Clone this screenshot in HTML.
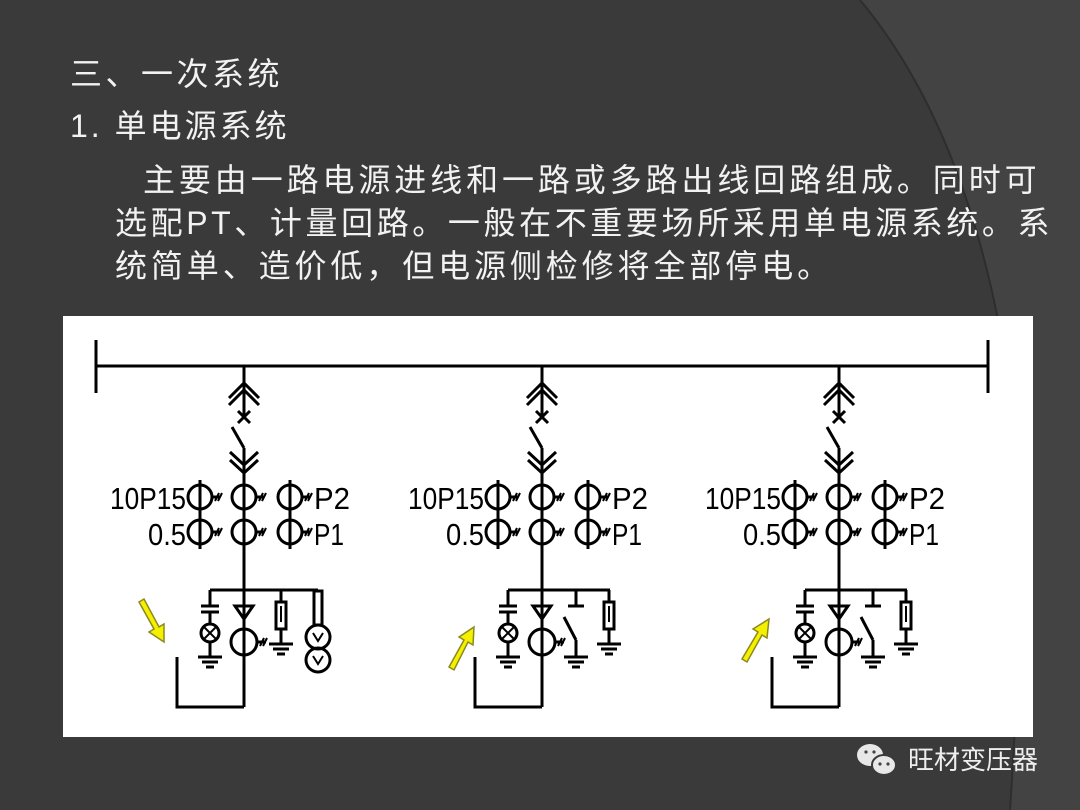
<!DOCTYPE html>
<html><head><meta charset="utf-8"><style>
html,body{margin:0;padding:0;width:1080px;height:810px;overflow:hidden;background:#3a3a3a}
.t{position:absolute;color:#f2f2f2;font-family:"Liberation Sans","Noto Sans CJK SC",sans-serif;font-size:32px;white-space:nowrap;line-height:1}
</style></head><body>
<svg width="1080" height="810" style="position:absolute;left:0;top:0">
<rect width="1080" height="810" fill="#3a3a3a"/>
<path d="M860 0 Q960 120 1000 330 Q1030 520 1010 810 L1080 810 L1080 0 Z" fill="#434343"/>
<path d="M860 0 Q960 120 1000 330 Q1030 520 1010 810" fill="none" stroke="#2e2e2e" stroke-width="2"/>
<rect x="63" y="316" width="970" height="421" fill="#fff"/>
<defs>
<g id="top" stroke="#000" stroke-width="3" fill="none">
<line x1="0" y1="366" x2="0" y2="417"/>
<polyline points="-15,398 0,383 15,398"/>
<polyline points="-15,405 0,390 15,405"/>
<line x1="-6" y1="411" x2="6" y2="423"/><line x1="6" y1="411" x2="-6" y2="423"/>
<line x1="-12" y1="427" x2="0" y2="448"/>
<line x1="0" y1="448" x2="0" y2="707"/>
<polyline points="-14,452 0,465 14,452"/>
<polyline points="-14,460 0,473 14,460"/>
</g>
<g id="ct" stroke="#000" stroke-width="3" fill="none">
<circle cx="0" cy="0" r="12"/>
<line x1="12" y1="0" x2="20" y2="0"/>
<line x1="15" y1="4" x2="19" y2="-4" stroke-width="2"/><line x1="18" y1="4" x2="22" y2="-4" stroke-width="2"/>
</g>
<g id="gnd" stroke="#000" stroke-width="3">
<line x1="-12" y1="0" x2="12" y2="0"/><line x1="-8" y1="5" x2="8" y2="5"/><line x1="-4" y1="10" x2="4" y2="10"/>
</g>
<g id="common">
<use href="#top"/>
<use href="#ct" x="-44" y="497"/><use href="#ct" x="0" y="497"/><use href="#ct" x="46" y="497"/>
<use href="#ct" x="-44" y="532"/><use href="#ct" x="0" y="532"/><use href="#ct" x="46" y="532"/>
<g stroke="#000" stroke-width="3" fill="none">
<line x1="-44" y1="480" x2="-44" y2="549"/><line x1="46" y1="480" x2="46" y2="549"/>
<line x1="-34" y1="590" x2="-34" y2="606"/>
<line x1="-43" y1="606" x2="-25" y2="606"/><line x1="-43" y1="612" x2="-25" y2="612"/>
<line x1="-34" y1="612" x2="-34" y2="624"/>
<circle cx="-34" cy="633" r="9"/>
<line x1="-40" y1="627" x2="-28" y2="639" stroke-width="2"/><line x1="-28" y1="627" x2="-40" y2="639" stroke-width="2"/>
<line x1="-34" y1="642" x2="-34" y2="657"/>
<polygon points="-9,606 9,606 0,619"/>
<circle cx="0" cy="642" r="13"/>
<line x1="13" y1="642" x2="22" y2="642"/>
<line x1="16" y1="646" x2="20" y2="638" stroke-width="2"/><line x1="19" y1="646" x2="23" y2="638" stroke-width="2"/>
<polyline points="-67,657 -67,707 0,707"/>
</g>
<use href="#gnd" x="-34" y="657"/>
<g font-family="Liberation Sans,sans-serif" font-size="31" fill="#000">
<text x="-58" y="509" text-anchor="end" textLength="76" lengthAdjust="spacingAndGlyphs">10P15</text>
<text x="-58" y="545" text-anchor="end" textLength="38" lengthAdjust="spacingAndGlyphs">0.5</text>
<text x="70" y="509" textLength="36" lengthAdjust="spacingAndGlyphs">P2</text>
<text x="70" y="545" textLength="30" lengthAdjust="spacingAndGlyphs">P1</text>
</g>
</g>
<g id="fuse" stroke="#000" stroke-width="3" fill="none">
<line x1="0" y1="590" x2="0" y2="602"/>
<rect x="-5" y="602" width="10" height="27"/>
<line x1="0" y1="606" x2="0" y2="622" stroke-width="2"/>
<line x1="0" y1="629" x2="0" y2="644"/>
</g>
</defs>
<g stroke="#000" stroke-width="3">
<line x1="96" y1="366" x2="988" y2="366"/>
<line x1="96" y1="340" x2="96" y2="393"/><line x1="988" y1="340" x2="988" y2="393"/>
</g>
<g transform="translate(244,0)">
<use href="#common"/>
<g stroke="#000" stroke-width="3" fill="none">
<line x1="-34" y1="590" x2="74" y2="590"/>
<rect x="70" y="591" width="8" height="34"/>
<circle cx="74" cy="637" r="12"/><circle cx="74" cy="660" r="12"/>
<polyline points="69,633 74,641 79,633" stroke-width="2"/><polyline points="69,656 74,664 79,656" stroke-width="2"/>
</g>
<use href="#fuse" x="37"/><use href="#gnd" x="37" y="644"/>
</g>
<g transform="translate(542,0)">
<use href="#common"/>
<g stroke="#000" stroke-width="3" fill="none">
<line x1="-34" y1="590" x2="68" y2="590"/>
<line x1="34" y1="590" x2="34" y2="606"/><line x1="26" y1="606" x2="42" y2="606"/>
<line x1="22" y1="617" x2="34" y2="640"/><line x1="34" y1="640" x2="34" y2="657"/>
</g>
<use href="#gnd" x="34" y="657"/>
<use href="#fuse" x="67"/><use href="#gnd" x="67" y="644"/>
</g>
<g transform="translate(839,0)">
<use href="#common"/>
<g stroke="#000" stroke-width="3" fill="none">
<line x1="-34" y1="590" x2="68" y2="590"/>
<line x1="34" y1="590" x2="34" y2="606"/><line x1="26" y1="606" x2="42" y2="606"/>
<line x1="22" y1="617" x2="34" y2="640"/><line x1="34" y1="640" x2="34" y2="657"/>
</g>
<use href="#gnd" x="34" y="657"/>
<use href="#fuse" x="67"/><use href="#gnd" x="67" y="644"/>
</g>
<g stroke="#8a8a20" stroke-width="1.5" fill="#f4f000">
<polygon points="139,602 144,599 159,627 164,624 164,642 149,632 154,629"/>
<polygon points="449,667 454,670 468,642 473,645 474,627 459,637 464,640"/>
<polygon points="742,659 747,662 762,635 767,638 769,619 753,629 758,632"/>
</g>
<g fill="#e8e8e8">
<ellipse cx="870" cy="755" rx="13" ry="11"/>
<ellipse cx="884" cy="765" rx="12" ry="10" stroke="#3a3a3a" stroke-width="2"/>
<circle cx="866" cy="752" r="1.6" fill="#444"/><circle cx="874" cy="752" r="1.6" fill="#444"/>
<circle cx="880" cy="764" r="1.6" fill="#444"/><circle cx="888" cy="764" r="1.6" fill="#444"/>
</g>
</svg>
<div class="t" style="left:70px;top:58px;letter-spacing:3.5px">三、一次系统</div>
<div class="t" style="left:70px;top:110px;letter-spacing:3px">1.&nbsp;单电源系统</div>
<div class="t" style="left:143px;top:164px;letter-spacing:3.9px">主要由一路电源进线和一路或多路出线回路组成。同时可</div>
<div class="t" style="left:115px;top:207px;letter-spacing:3.6px">选配PT、计量回路。一般在不重要场所采用单电源系统。系</div>
<div class="t" style="left:115px;top:250px;letter-spacing:3.9px">统简单、造价低，但电源侧检修将全部停电。</div>
<div class="t" style="left:908px;top:747px;font-size:26px;color:#eee;letter-spacing:0px">旺材变压器</div>
</body></html>
